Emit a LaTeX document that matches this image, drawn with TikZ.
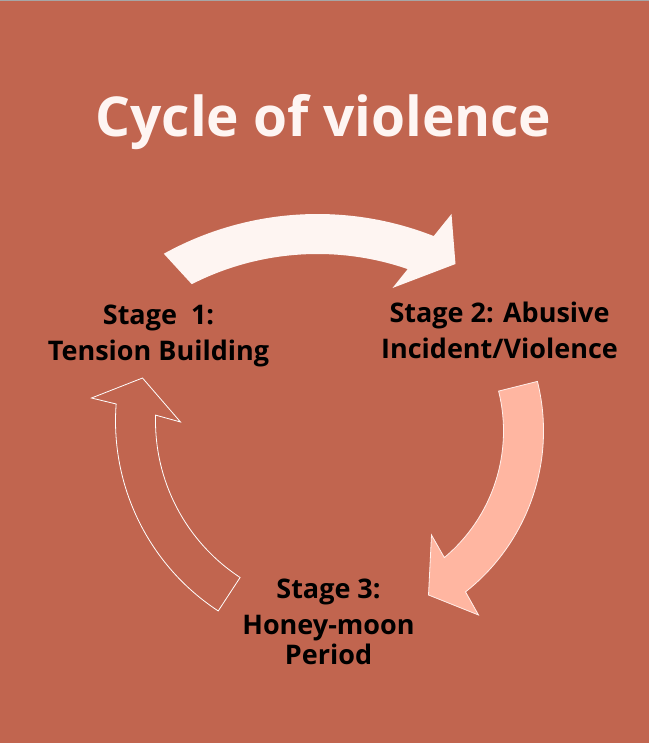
\documentclass[tikz,border=0pt]{standalone}
\usepackage{fontspec}
\setmainfont{Open Sans}
\usetikzlibrary{calc}

\definecolor{rust}{HTML}{C1654F}
\definecolor{blush}{HTML}{FEF5F2}
\definecolor{peach}{HTML}{FFB6A1}

\begin{document}
\begin{tikzpicture}
  [x=1pt,y=-1pt,
   heading/.style={font=\bfseries\fontsize{55}{66}\selectfont,text=blush,anchor=base,inner sep=0pt},
   stage/.style={font=\bfseries\fontsize{27}{36}\selectfont,text=black,align=center,anchor=base,inner sep=0pt},
   solidarrow/.style={fill=blush},
   softarrow/.style={fill=peach,draw=white!80!peach,line width=0.8pt,line join=miter},
   hollowarrow/.style={draw=white,line width=0.8pt,line join=miter}]
  \fill[rust] (0,0) rectangle (648,743);
  \draw[gray!70,line width=1pt] (0,0.5) -- (648,0.5);

  \node[heading] (title) at (323,137) {Cycle of violence};

  % centres of the three bent arrows
  \coordinate (T) at (317,531);
  \coordinate (R) at (338,431);
  \coordinate (L) at (342,421);

  \fill[solidarrow] ($(T)+(-119:317)$) arc[start angle=-119,end angle=-68.5,radius=317]
    -- (451,214) -- (455,264) -- (392,288)
    -- ($(T)+(-71:277)$) arc[start angle=-71,end angle=-117,radius=277] -- cycle;
  \filldraw[softarrow] ($(R)+(-14:205)$) arc[start angle=-14,end angle=51.7,radius=205]
    -- (478,615) -- (428,595) -- (431,535)
    -- ($(R)+(50.1:165)$) arc[start angle=50.1,end angle=-14,radius=165] -- cycle;
  \draw[hollowarrow] ($(L)+(123.2:227)$) arc[start angle=123.2,end angle=184.3,radius=227]
    -- (91,398) -- (142,378) -- (180,422)
    -- ($(L)+(181.8:187)$) arc[start angle=181.8,end angle=123.2,radius=187] -- cycle;

  % base anchor sits on the last line
  \node[stage] (stage1) at (158,360) {Stage\ \ 1:\\Tension Building};
  \node[stage] (stage2) at (499,358) {Stage 2: Abusive\\Incident/Violence};
  \node[stage] (stage3) at (328,664) {Stage 3:\\Honey-moon\\[-6pt]Period};
\end{tikzpicture}
\end{document}
